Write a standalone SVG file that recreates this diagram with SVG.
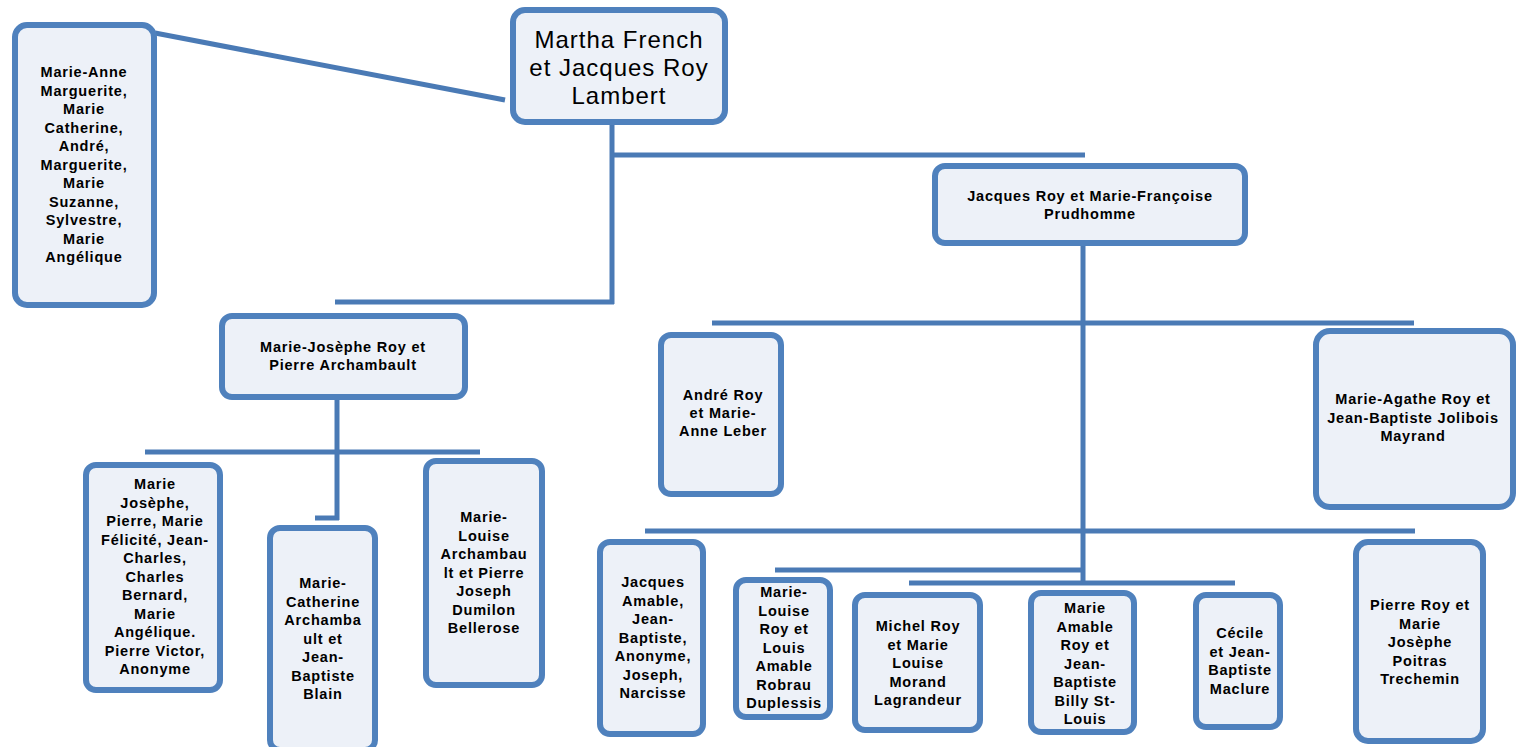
<svg xmlns="http://www.w3.org/2000/svg" width="1516" height="747" viewBox="0 0 1516 747">
<style>
.box{fill:#EDF1F8;stroke:#4F81BD;stroke-width:6}
.t{font-family:"Liberation Sans","DejaVu Sans",sans-serif;font-size:14.5px;font-weight:bold;fill:#000;text-anchor:middle;letter-spacing:0.8px}
.root{font-family:"Liberation Sans","DejaVu Sans",sans-serif;font-size:24px;fill:#000;text-anchor:middle;letter-spacing:1px}
.c{stroke:#4A7AB5;stroke-width:5;fill:none;stroke-linecap:butt}
</style>
<rect width="1516" height="747" fill="#fff"/>
<g id="connectors">
<line class="c" x1="155" y1="33" x2="505" y2="100"/>
<line class="c" x1="612" y1="125" x2="612" y2="304"/>
<line class="c" x1="610" y1="155" x2="1085" y2="155"/>
<line class="c" x1="335" y1="302" x2="614" y2="302"/>
<line class="c" x1="1083" y1="246" x2="1083" y2="585"/>
<line class="c" x1="712" y1="323" x2="1414" y2="323"/>
<line class="c" x1="645" y1="531" x2="1415" y2="531"/>
<line class="c" x1="775" y1="570" x2="1083" y2="570"/>
<line class="c" x1="909" y1="583" x2="1235" y2="583"/>
<line class="c" x1="337" y1="400" x2="337" y2="520"/>
<line class="c" x1="145" y1="452" x2="480" y2="452"/>
<line class="c" x1="315" y1="518" x2="339" y2="518"/>
</g>
<g id="n-siblings">
<rect class="box" x="15" y="25" width="139" height="280" rx="12"/>
<text class="t" x="84"><tspan x="84" y="77">Marie-Anne</tspan><tspan x="84" y="95.5">Marguerite,</tspan><tspan x="84" y="114">Marie</tspan><tspan x="84" y="132.5">Catherine,</tspan><tspan x="84" y="151">André,</tspan><tspan x="84" y="169.5">Marguerite,</tspan><tspan x="84" y="188">Marie</tspan><tspan x="84" y="206.5">Suzanne,</tspan><tspan x="84" y="225">Sylvestre,</tspan><tspan x="84" y="243.5">Marie</tspan><tspan x="84" y="262">Angélique</tspan></text>
</g>
<g id="n-root">
<rect class="box" x="513" y="10" width="212" height="112" rx="12"/>
<text class="root"><tspan x="619" y="48">Martha French</tspan><tspan x="619" y="76">et Jacques Roy</tspan><tspan x="619" y="104">Lambert</tspan></text>
</g>
<g id="n-jacques">
<rect class="box" x="935" y="166" width="310" height="77" rx="10"/>
<text class="t"><tspan x="1090" y="201">Jacques Roy et Marie-Françoise</tspan><tspan x="1090" y="219">Prudhomme</tspan></text>
</g>
<g id="n-mariejosephe">
<rect class="box" x="222" y="316" width="243" height="81" rx="10"/>
<text class="t"><tspan x="343" y="352">Marie-Josèphe Roy et</tspan><tspan x="343" y="370">Pierre Archambault</tspan></text>
</g>
<g id="n-andre">
<rect class="box" x="661" y="335" width="120" height="159" rx="10"/>
<text class="t"><tspan x="723" y="400">André Roy</tspan><tspan x="723" y="418">et Marie-</tspan><tspan x="723" y="436">Anne Leber</tspan></text>
</g>
<g id="n-marieagathe">
<rect class="box" x="1316" y="331" width="197" height="176" rx="14"/>
<text class="t"><tspan x="1413" y="404">Marie-Agathe Roy et</tspan><tspan x="1413" y="422.5">Jean-Baptiste Jolibois</tspan><tspan x="1413" y="441">Mayrand</tspan></text>
</g>
<g id="n-mjlist">
<rect class="box" x="86" y="465" width="134" height="225" rx="10"/>
<text class="t"><tspan x="155" y="489">Marie</tspan><tspan x="155" y="507.5">Josèphe,</tspan><tspan x="155" y="526">Pierre, Marie</tspan><tspan x="155" y="544.5">Félicité, Jean-</tspan><tspan x="155" y="563">Charles,</tspan><tspan x="155" y="581.5">Charles</tspan><tspan x="155" y="600">Bernard,</tspan><tspan x="155" y="618.5">Marie</tspan><tspan x="155" y="637">Angélique.</tspan><tspan x="155" y="655.5">Pierre Victor,</tspan><tspan x="155" y="674">Anonyme</tspan></text>
</g>
<g id="n-mcatherine">
<rect class="box" x="270" y="528" width="105" height="222" rx="10"/>
<text class="t"><tspan x="323" y="588">Marie-</tspan><tspan x="323" y="606.5">Catherine</tspan><tspan x="323" y="625">Archamba</tspan><tspan x="323" y="643.5">ult et</tspan><tspan x="323" y="662">Jean-</tspan><tspan x="323" y="680.5">Baptiste</tspan><tspan x="323" y="699">Blain</tspan></text>
</g>
<g id="n-mlouise-arch">
<rect class="box" x="426" y="461" width="116" height="224" rx="10"/>
<text class="t"><tspan x="484" y="522">Marie-</tspan><tspan x="484" y="540.5">Louise</tspan><tspan x="484" y="559">Archambau</tspan><tspan x="484" y="577.5">lt et Pierre</tspan><tspan x="484" y="596">Joseph</tspan><tspan x="484" y="614.5">Dumilon</tspan><tspan x="484" y="633">Bellerose</tspan></text>
</g>
<g id="n-jacques-amable">
<rect class="box" x="600" y="542" width="103" height="192" rx="10"/>
<text class="t"><tspan x="653" y="587">Jacques</tspan><tspan x="653" y="605.5">Amable,</tspan><tspan x="653" y="624">Jean-</tspan><tspan x="653" y="642.5">Baptiste,</tspan><tspan x="653" y="661">Anonyme,</tspan><tspan x="653" y="679.5">Joseph,</tspan><tspan x="653" y="698">Narcisse</tspan></text>
</g>
<g id="n-mlouise-roy">
<rect class="box" x="736" y="580" width="94" height="137" rx="10"/>
<text class="t"><tspan x="784" y="597">Marie-</tspan><tspan x="784" y="615.5">Louise</tspan><tspan x="784" y="634">Roy et</tspan><tspan x="784" y="652.5">Louis</tspan><tspan x="784" y="671">Amable</tspan><tspan x="784" y="689.5">Robrau</tspan><tspan x="784" y="708">Duplessis</tspan></text>
</g>
<g id="n-michel">
<rect class="box" x="855" y="595" width="125" height="135" rx="10"/>
<text class="t"><tspan x="918" y="631">Michel Roy</tspan><tspan x="918" y="649.5">et Marie</tspan><tspan x="918" y="668">Louise</tspan><tspan x="918" y="686.5">Morand</tspan><tspan x="918" y="705">Lagrandeur</tspan></text>
</g>
<g id="n-marie-amable">
<rect class="box" x="1031" y="593" width="103" height="139" rx="10"/>
<text class="t"><tspan x="1085" y="613">Marie</tspan><tspan x="1085" y="631.5">Amable</tspan><tspan x="1085" y="650">Roy et</tspan><tspan x="1085" y="668.5">Jean-</tspan><tspan x="1085" y="687">Baptiste</tspan><tspan x="1085" y="705.5">Billy St-</tspan><tspan x="1085" y="724">Louis</tspan></text>
</g>
<g id="n-cecile">
<rect class="box" x="1196" y="595" width="84" height="132" rx="10"/>
<text class="t"><tspan x="1240" y="638">Cécile</tspan><tspan x="1240" y="656.5">et Jean-</tspan><tspan x="1240" y="675">Baptiste</tspan><tspan x="1240" y="693.5">Maclure</tspan></text>
</g>
<g id="n-pierre">
<rect class="box" x="1356" y="542" width="127" height="199" rx="12"/>
<text class="t"><tspan x="1420" y="610">Pierre Roy et</tspan><tspan x="1420" y="628.5">Marie</tspan><tspan x="1420" y="647">Josèphe</tspan><tspan x="1420" y="665.5">Poitras</tspan><tspan x="1420" y="684">Trechemin</tspan></text>
</g>
</svg>
